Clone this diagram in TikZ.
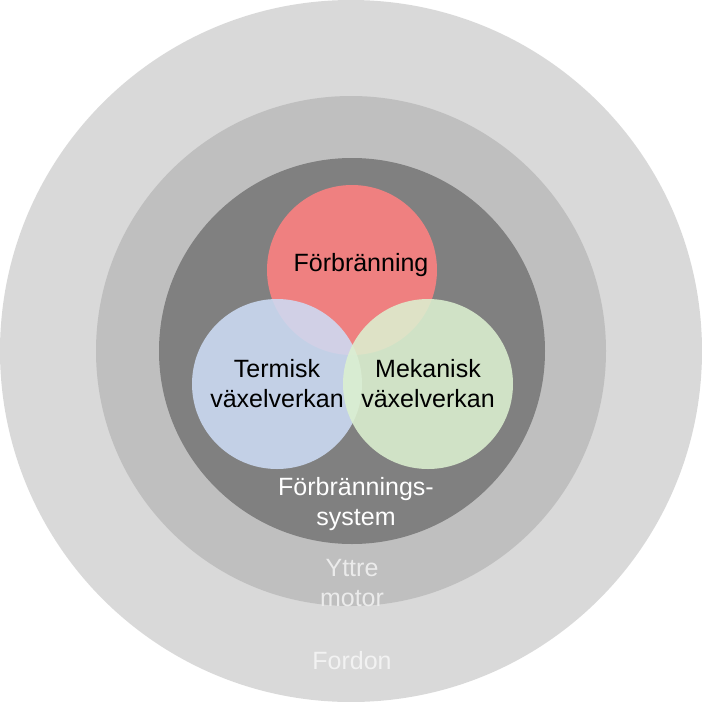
\documentclass[tikz,border=0pt]{standalone}
\usepackage{fontspec}
\setmainfont{Liberation Sans}
\begin{document}
\begin{tikzpicture}[x=1pt,y=-1pt]
    \tikzstyle{ring} = [circle, inner sep=0pt];
    \tikzstyle{petal} = [circle, inner sep=0pt, minimum size=170pt, fill opacity=0.88];
    \tikzstyle{label} = [align=center, font=\fontsize{25}{30}\selectfont];
    \useasboundingbox (0,0) rectangle (702,702);
    \node[ring, fill=black!15, minimum size=702pt] (fordon) at (351,351) {};
    \node[ring, fill=black!25, minimum size=510pt] (motor) at (351,351) {};
    \node[ring, fill=black!50, minimum size=386pt] (system) at (352,351) {};
    \node[petal, fill={rgb,255:red,255;green,128;blue,128}] (forb) at (352,270) {};
    \node[petal, fill={rgb,255:red,205;green,220;blue,245}] (term) at (277,384) {};
    \node[petal, fill={rgb,255:red,220;green,240;blue,208}] (mek) at (428,384) {};
    \node[label] at (361,265) {Förbränning};
    \node[label] at (277,384) {Termisk\\växelverkan};
    \node[label] at (428,384) {Mekanisk\\växelverkan};
    \node[label, text=white] at (356,504) {Förbrännings-\\system};
    \node[label, text=black!8] at (352,583) {Yttre\\motor};
    \node[label, text=white!95!black] at (352,661) {Fordon};
\end{tikzpicture}
\end{document}
